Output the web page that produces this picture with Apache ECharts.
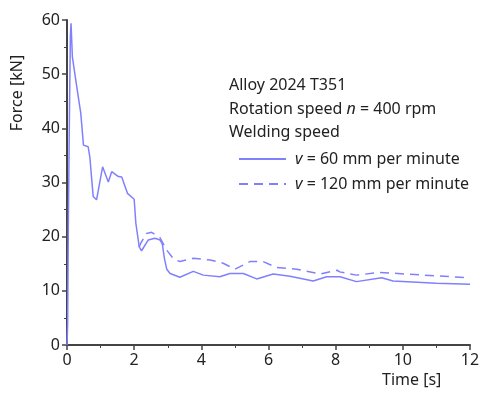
<!DOCTYPE html>
<html>
<head>
<meta charset="utf-8">
<script src="https://cdn.jsdelivr.net/npm/echarts@6/dist/echarts.min.js"></script>
<style>
  html, body { margin: 0; padding: 0; background: #fff; }
  #chart { width: 484px; height: 394px; }
</style>
</head>
<body>
<div id="chart"></div>
<script>
// v = 60 mm per minute (solid)
var timeV60 = [0, 0.02, 0.04, 0.07, 0.1, 0.12, 0.16, 0.29, 0.41, 0.49, 0.63, 0.68, 0.78, 0.88, 1.06, 1.23, 1.33, 1.53, 1.63, 1.8, 2.0, 2.05, 2.15, 2.22, 2.42, 2.62, 2.77, 2.84, 2.9, 2.97, 3.07, 3.36, 3.76, 4.06, 4.55, 4.85, 5.25, 5.65, 6.14, 6.64, 7.33, 7.73, 8.13, 8.62, 9.37, 9.71, 11.0, 12.0];
var forceV60 = [0, 4, 22, 41, 57, 59.4, 53.2, 47.7, 42.8, 36.9, 36.6, 34.7, 27.4, 26.8, 32.9, 30.1, 32.0, 31.1, 31.0, 28.0, 26.9, 22.5, 18.1, 17.4, 19.4, 19.7, 19.4, 18.6, 16.0, 14.0, 13.2, 12.5, 13.6, 12.9, 12.6, 13.2, 13.2, 12.2, 13.1, 12.7, 11.8, 12.6, 12.6, 11.7, 12.4, 11.8, 11.4, 11.2];

// v = 120 mm per minute (dashed), overlaps the solid curve before ~2 s
var timeV120 = [2.15, 2.19, 2.37, 2.52, 2.77, 2.97, 3.16, 3.36, 3.76, 4.26, 4.65, 5.0, 5.45, 5.84, 6.24, 6.84, 7.54, 8.04, 8.12, 8.62, 9.32, 10.1, 12.0];
var forceV120 = [18.1, 18.7, 20.6, 20.8, 19.8, 17.5, 16.0, 15.4, 16.0, 15.7, 15.1, 14.0, 15.4, 15.4, 14.3, 14.0, 13.1, 13.8, 13.5, 12.9, 13.4, 13.1, 12.4];

var xTicks = [0, 2, 4, 6, 8, 10, 12];
var yTicks = [0, 10, 20, 30, 40, 50, 60];

var legendNames = ['v60', 'v120'];
var legendLabels = { v60: '60 mm per minute', v120: '120 mm per minute' };
var infoLines = ['Alloy 2024 T351', 'Rotation speed {i|n} = 400 rpm', 'Welding speed'];

var font = 'Noto Sans';
var lineColor = '#8080ff';
var axisColor = '#444';

function pairs(xs, ys) {
    return xs.map(function (x, i) { return [x, ys[i]]; });
}

var chart = echarts.init(document.getElementById('chart'));

var axisCommon = {
    type: 'value',
    axisLine: { show: true, onZero: false, lineStyle: { color: axisColor, width: 2 } },
    axisTick: { show: true, inside: false, length: 5, lineStyle: { color: axisColor, width: 1.5 } },
    minorTick: { show: true, splitNumber: 2, length: 3, lineStyle: { color: axisColor, width: 1 } },
    splitLine: { show: false },
    minorSplitLine: { show: false },
    axisLabel: { color: '#222', fontSize: 16, margin: 7, fontFamily: font }
};

var option = {
    animation: false,
    textStyle: { fontFamily: font },
    grid: { left: 67, right: 14, top: 20, bottom: 49, containLabel: false },
    xAxis: echarts.util.merge({
        min: xTicks[0],
        max: xTicks[xTicks.length - 1],
        interval: 2
    }, axisCommon),
    yAxis: echarts.util.merge({
        min: yTicks[0],
        max: yTicks[yTicks.length - 1],
        interval: 10
    }, axisCommon),
    legend: {
        orient: 'vertical',
        left: 233,
        top: 146,
        itemWidth: 47,
        itemHeight: 10,
        itemGap: 9,
        data: legendNames,
        itemStyle: { opacity: 0 },
        textStyle: {
            color: '#222',
            fontSize: 16,
            fontFamily: font,
            padding: [0, 0, 0, 4],
            rich: { i: { fontStyle: 'italic', fontSize: 16, fontFamily: font, color: '#222' } }
        },
        formatter: function (name) { return '{i|v} = ' + legendLabels[name]; }
    },
    graphic: [
        {
            type: 'text',
            left: 229,
            top: 74,
            style: {
                text: infoLines.join('\n'),
                font: '16px "' + font + '"',
                lineHeight: 23.5,
                fill: '#222',
                rich: { i: { fontStyle: 'italic', fontSize: 16, fontFamily: font, fill: '#222' } }
            }
        },
        {
            type: 'text',
            x: 17,
            y: 93,
            rotation: Math.PI / 2,
            style: {
                text: 'Force [kN]',
                font: '16px "' + font + '"',
                fill: '#222',
                align: 'center',
                verticalAlign: 'middle'
            }
        },
        {
            type: 'text',
            left: 382,
            top: 372,
            style: { text: 'Time [s]', font: '16px "' + font + '"', fill: '#222' }
        }
    ],
    series: [
        {
            name: 'v60',
            type: 'line',
            showSymbol: false,
            symbol: 'none',
            data: pairs(timeV60, forceV60),
            lineStyle: { color: lineColor, width: 1.5 },
            itemStyle: { color: lineColor }
        },
        {
            name: 'v120',
            type: 'line',
            showSymbol: false,
            symbol: 'none',
            data: pairs(timeV120, forceV120),
            lineStyle: { color: lineColor, width: 1.5, type: [9, 6] },
            itemStyle: { color: lineColor }
        }
    ]
};

chart.setOption(option);
</script>
</body>
</html>
